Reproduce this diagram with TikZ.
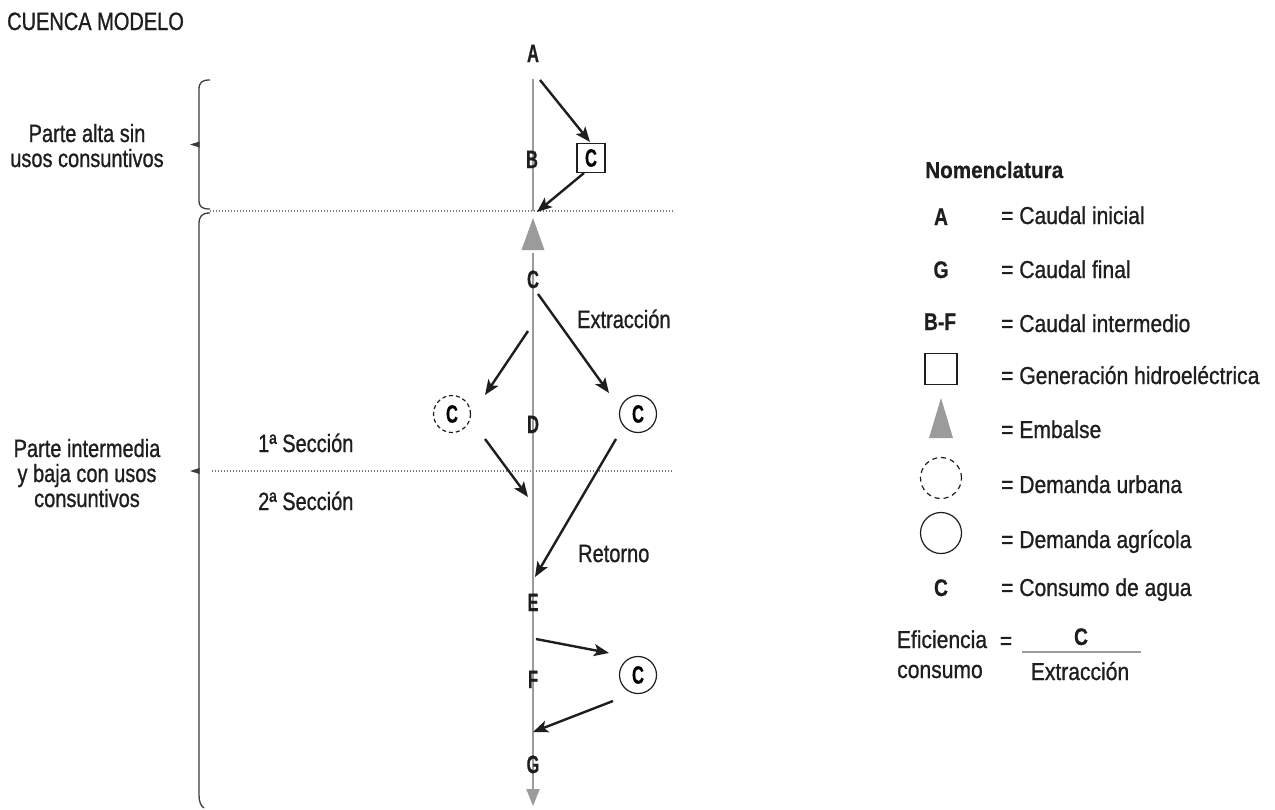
\documentclass[tikz,border=0pt]{standalone}
\usepackage{fontspec}
\setmainfont{Liberation Sans}
\newfontfamily\rgf[FakeStretch=0.80,FakeBold=0.9]{Liberation Sans}
\newfontfamily\lgf[FakeStretch=0.86,FakeBold=0.9]{Liberation Sans}
\newfontfamily\bdf[FakeStretch=0.66,FakeBold=0.6]{Liberation Sans}
\newfontfamily\bdl[FakeStretch=0.80,FakeBold=0.6]{Liberation Sans}
\newfontfamily\bdn[FakeStretch=0.90,FakeBold=0.6]{Liberation Sans}
\usetikzlibrary{arrows.meta}
\definecolor{rivergray}{RGB}{155,155,155}
\definecolor{ink}{RGB}{30,30,30}
\definecolor{dotgray}{RGB}{120,120,120}
\definecolor{bracegray}{RGB}{60,60,60}
\tikzset{
  lab/.style={font=\rgf\fontsize{25}{27}\selectfont, inner sep=0pt, text=ink},
  leg/.style={font=\lgf\fontsize{24.5}{28}\selectfont, inner sep=0pt, text=ink},
  let/.style={font=\bdf\bfseries\fontsize{25}{27}\selectfont, inner sep=0pt, text=ink},
  legl/.style={font=\bdl\bfseries\fontsize{24}{26}\selectfont, inner sep=0pt, text=ink},
  river/.style={draw=rivergray, line width=2.2pt},
  flow/.style={draw=ink, line width=2.4pt, -{Stealth[length=15pt,width=12pt,inset=3.5pt]}},
  sep/.style={draw=dotgray, line width=1.2pt, dash pattern=on 1.2pt off 1.8pt},
  brace/.style={draw=bracegray, line width=1.3pt},
  hydro/.style={draw=ink, line width=1.2pt, minimum width=28pt, minimum height=29pt, inner sep=0pt,
    font=\bdf\bfseries\fontsize{25}{27}\selectfont},
  agri/.style={circle, draw=ink, line width=1.2pt, minimum size=37pt, inner sep=0pt,
    font=\bdf\bfseries\fontsize{25}{27}\selectfont},
  urban/.style={agri, dash pattern=on 4pt off 3pt},
}
\begin{document}
\begin{tikzpicture}[x=1pt,y=-1pt]
\useasboundingbox (0,0) rectangle (1275,809);

% title
\node[lab, anchor=base west] (title) at (7,30) {CUENCA MODELO};

% braces
\draw[brace] (210,80) .. controls (202,80) and (199,82) .. (199,90) -- (199,200) .. controls (199,207) and (202,209) .. (210,209);
\fill[bracegray] (199.5,141.5) -- (190,144.5) -- (199.5,147.5) -- cycle;
\draw[brace] (210,213) .. controls (202,213) and (199,216) .. (199,224) -- (199,795) .. controls (199,802) and (201,806) .. (204,808);
\fill[bracegray] (199.5,468) -- (190,471) -- (199.5,474) -- cycle;

\node[lab, anchor=base] (pa1) at (87,142) {Parte alta sin};
\node[lab, anchor=base] (pa2) at (87,167) {usos consuntivos};
\node[lab, anchor=base] (pi1) at (87,457) {Parte intermedia};
\node[lab, anchor=base] (pi2) at (87,482) {y baja con usos};
\node[lab, anchor=base] (pi3) at (87,507) {consuntivos};

% section lines
\coordinate (s1a) at (210,211); \coordinate (s1b) at (673,211);
\coordinate (s2a) at (212,471); \coordinate (s2b) at (673,471);
\draw[sep] (s1a) -- (s1b);
\draw[sep] (s2a) -- (s2b);
\node[lab, anchor=base west] (sec1) at (258,452) {1ª Sección};
\node[lab, anchor=base west] (sec2) at (258,510) {2ª Sección};

% river
\coordinate (rtop) at (533,79);
\coordinate (j1) at (533,211);
\coordinate (r2) at (533,253);
\coordinate (rbot) at (533,806);
\draw[river] (rtop) -- (j1);
\fill[rivergray] (533,218) -- (544.5,250) -- (521.5,250) -- cycle;
\draw[river, -{Triangle[length=17pt,width=13pt]}] (r2) -- (rbot);

% river letters
\node[let, anchor=base] (A) at (533,62) {A};
\node[let, anchor=base] (B) at (532,168) {B};
\node[let, anchor=base] (C) at (533,288) {C};
\node[let, anchor=base] (D) at (533,433) {D};
\node[let, anchor=base] (E) at (533,611) {E};
\node[let, anchor=base] (F) at (533,688) {F};
\node[let, anchor=base] (G) at (533,773) {G};

% demand nodes
\node[hydro] (Ch) at (591,158) {C};
\node[urban] (Cu) at (452,414) {C};
\node[agri] (Ca1) at (638,414) {C};
\node[agri] (Ca2) at (638,675) {C};

% flows
\coordinate (f1s) at (540,80);   \coordinate (f1e) at (590,142);
\coordinate (f2s) at (584,173);  \coordinate (f2e) at (537,212);
\coordinate (f3s) at (528,331);  \coordinate (f3e) at (485,395);
\coordinate (f4s) at (538,294);  \coordinate (f4e) at (609,393);
\coordinate (f5s) at (485,439);  \coordinate (f5e) at (528,497);
\coordinate (f6s) at (616,439);  \coordinate (f6e) at (535,577);
\coordinate (f7s) at (536,639);  \coordinate (f7e) at (609,653);
\coordinate (f8s) at (613,701);  \coordinate (f8e) at (533,732);
\draw[flow] (f1s) -- (f1e);
\draw[flow] (f2s) -- (f2e);
\draw[flow] (f3s) -- (f3e);
\draw[flow] (f4s) -- (f4e);
\draw[flow] (f5s) -- (f5e);
\draw[flow] (f6s) -- (f6e);
\draw[flow] (f7s) -- (f7e);
\draw[flow] (f8s) -- (f8e);

\node[lab, anchor=base west] (ext) at (577,328) {Extracción};
\node[lab, anchor=base west] (ret) at (578,562) {Retorno};

% legend
\node[legl, anchor=base west, font=\bdn\bfseries\fontsize{23}{25}\selectfont] (nom) at (925,178) {Nomenclatura};
\node[legl, anchor=base] (lA) at (941,225) {A};
\node[leg, anchor=base west] (tA) at (1001,224) {= Caudal inicial};
\node[legl, anchor=base] (lG) at (941,278) {G};
\node[leg, anchor=base west] (tG) at (1001,278) {= Caudal final};
\node[legl, anchor=base] (lBF) at (940,330) {B-F};
\node[leg, anchor=base west] (tBF) at (1001,332) {= Caudal intermedio};
\node[draw=ink, line width=1.2pt, minimum width=32pt, minimum height=31pt, inner sep=0pt] (lsq) at (941,369) {};
\node[leg, anchor=base west] (tsq) at (1001,384) {= Generación hidroeléctrica};
\fill[rivergray] (941,398) -- (953,438) -- (929,438) -- cycle;
\node[leg, anchor=base west] (ttri) at (1001,438) {= Embalse};
\node[circle, draw=ink, line width=1.2pt, dash pattern=on 5pt off 4pt, minimum size=41pt] (lurb) at (941,478) {};
\node[leg, anchor=base west] (turb) at (1001,493) {= Demanda urbana};
\node[circle, draw=ink, line width=1.2pt, minimum size=41pt] (lagr) at (941,533) {};
\node[leg, anchor=base west] (tagr) at (1001,548) {= Demanda agrícola};
\node[legl, anchor=base] (lC) at (941,596) {C};
\node[leg, anchor=base west] (tC) at (1001,596) {= Consumo de agua};

% efficiency
\node[leg, anchor=base] (ef1) at (942,648) {Eficiencia};
\node[leg, anchor=base] (ef2) at (940,678) {consumo};
\node[leg] (efeq) at (1006,643) {=};
\node[legl, anchor=base] (efC) at (1081,645) {C};
\coordinate (barl) at (1022,652); \coordinate (barr) at (1141,652);
\draw[draw=rivergray, line width=2pt] (barl) -- (barr);
\node[leg, anchor=base] (efX) at (1080,680) {Extracción};
\end{tikzpicture}
\end{document}
